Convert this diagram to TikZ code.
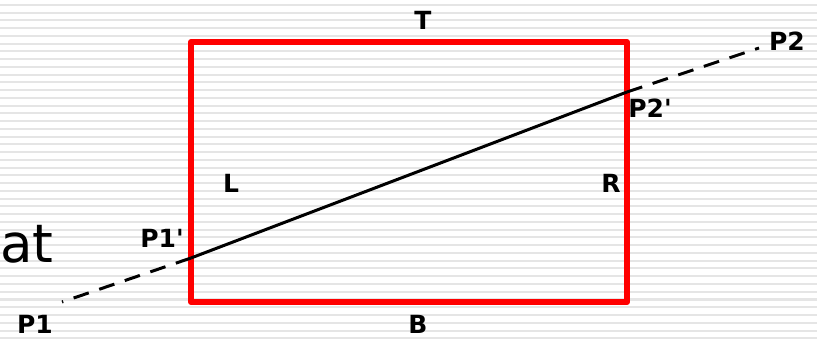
\documentclass[tikz,border=0pt]{standalone}
\usepackage{fontspec}
\setmainfont{DejaVu Sans}
\usepackage{tikz}
\usetikzlibrary{positioning, calc}

\begin{document}
\begin{tikzpicture}[
    x=1pt, y=-1pt,
    lbl/.style={anchor=base, inner sep=0pt, font=\fontsize{25}{28}\selectfont\bfseries},
    clipbox/.style={draw=red, line width=6pt, line join=round},
    seg/.style={draw=black, line width=3pt},
    outside/.style={draw=black, line width=3pt, dash pattern=on 16pt off 11pt},
    rule/.style={draw=gray!20, line width=2pt},
]
\useasboundingbox (0,0) rectangle (817,339);
\fill[white] (0,0) rectangle (817,339);

% Ruled background
\foreach \k in {0,...,43} \draw[rule] (0,5+7.75*\k) -- (817,5+7.75*\k);

% Clip window corners
\coordinate (tl) at (191,42);
\coordinate (br) at (627,302);
\draw[clipbox] (tl) rectangle (br);

% Line end points and clipped points
\coordinate (p1)  at (62,302);
\coordinate (p1c) at (191,258);
\coordinate (p2c) at (627,92);
\coordinate (p2)  at (759,48);

\draw[seg] (p1c) -- (p2c);
\draw[outside] (p1c) -- (p1);
\draw[outside] (p2c) -- (p2);

% Edge labels
\node[lbl] (top)   at (423,30)  {T};
\node[lbl] (bot)   at (418,333) {B};
\node[lbl] (left)  at (231,193) {L};
\node[lbl] (right) at (611,193) {R};

% Point labels
\node[lbl] (lp1)  at (35,333)  {P1};
\node[lbl] (lp1c) at (162,248) {P1\textquotesingle};
\node[lbl] (lp2c) at (650,118) {P2\textquotesingle};
\node[lbl] (lp2)  at (787,51)  {P2};

% Cut-off slide text
\node[anchor=base west, inner sep=0pt, font=\fontsize{53}{60}\selectfont] (frag) at (0,262) {at};
\end{tikzpicture}
\end{document}
